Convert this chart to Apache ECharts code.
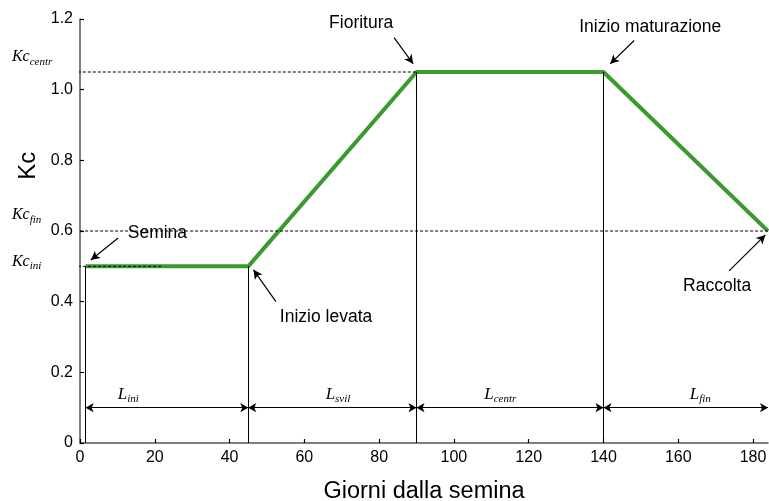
<!DOCTYPE html>
<html><head><meta charset="utf-8">
<script src="https://cdn.jsdelivr.net/npm/echarts@6/dist/echarts.min.js"></script>
<style>html,body{margin:0;padding:0;background:#fff}#c{width:769px;height:501px}</style>
</head><body><div id="c"></div>
<script>
// ---- data ----
const xTicks = [0, 20, 40, 60, 80, 100, 120, 140, 160, 180];
const yTicks = [0, 0.2, 0.4, 0.6, 0.8, 1.0, 1.2];
const kcDays = [1.5, 45, 90, 140, 184];
const kcValues = [0.5, 0.5, 1.05, 1.05, 0.6];
const refNames = ['centr', 'fin', 'ini'];
const refValues = [1.05, 0.6, 0.5];
const refStart = [-8.6, -8.0, -7.2];
const refEnd = [90, 184, 22];
const refLabelX = -18.2;
const refLabelY = [1.092, 0.645, 0.514];
const stageNames = ['ini', 'svil', 'centr', 'fin'];
const stageBounds = [1.5, 45, 90, 140, 184];
const stageLabelX = [12.9, 69, 112.4, 165.9];
const stageArrowY = 0.1;
const stageLabelY = 0.138;
const annTexts = ['Semina', 'Inizio levata', 'Fioritura', 'Inizio maturazione', 'Raccolta'];
const annX = [20.7, 65.8, 75.2, 152.5, 170.4];
const annY = [0.593, 0.356, 1.188, 1.177, 0.445];
const arrowFromX = [10.2, 52.4, 84.0, 148.2, 173.6];
const arrowFromY = [0.580, 0.400, 1.147, 1.139, 0.487];
const arrowToX = [2.9, 46.4, 89.1, 141.8, 183.3];
const arrowToY = [0.518, 0.490, 1.073, 1.073, 0.589];
const yNamePos = [-13.9, 0.785];

// ---- chart ----
const sans = 'Liberation Sans';
const serif = 'Liberation Serif';
const chart = echarts.init(document.getElementById('c'), null, {renderer: 'canvas'});

const series = [];
series.push({
  type: 'line', name: 'Kc', data: kcDays.map((d, i) => [d, kcValues[i]]),
  symbol: 'none', lineStyle: {color: '#3a9a2e', width: 4}, z: 3, animation: false
});
refValues.forEach((v, i) => {
  series.push({
    type: 'line', data: [[refStart[i], v], [refEnd[i], v]], clip: false,
    symbol: 'none', lineStyle: {color: '#000', width: 1, type: [3, 2]}, z: 5, animation: false, silent: true
  });
});
// vertical drop lines
series.push({
  type: 'line', data: [], animation: false, z: 2,
  markLine: {
    silent: true, animation: false, symbol: ['none', 'none'], label: {show: false},
    lineStyle: {color: '#000', width: 1, type: 'solid'},
    data: kcDays.slice(0, 4).map((d, i) => [{coord: [d, 0]}, {coord: [d, kcValues[i]]}])
  }
});
// stage dimension arrows
series.push({
  type: 'line', data: [], animation: false, z: 4,
  markLine: {
    silent: true, animation: false, symbol: ['arrow', 'arrow'], symbolSize: [7, 8], label: {show: false},
    lineStyle: {color: '#000', width: 1.2, type: 'solid'},
    data: stageNames.map((n, i) => [{coord: [stageBounds[i], stageArrowY]}, {coord: [stageBounds[i + 1], stageArrowY]}])
  }
});
// annotation arrows
series.push({
  type: 'line', data: [], animation: false, z: 4,
  markLine: {
    silent: true, animation: false, symbol: ['none', 'arrow'], symbolSize: [7, 9], label: {show: false},
    lineStyle: {color: '#000', width: 1.2, type: 'solid'},
    data: annTexts.map((t, i) => [{coord: [arrowFromX[i], arrowFromY[i]]}, {coord: [arrowToX[i], arrowToY[i]]}])
  }
});
// texts
const textData = [];
annTexts.forEach((t, i) => textData.push({
  value: [annX[i], annY[i]],
  label: {formatter: t, fontFamily: sans, fontSize: 17.5, color: '#000', align: 'center', verticalAlign: 'middle'}
}));
refNames.forEach((n, i) => textData.push({
  value: [refLabelX, refLabelY[i]],
  label: {formatter: '{m|Kc}{s|' + n + '}', align: 'left', verticalAlign: 'middle'}
}));
stageNames.forEach((n, i) => textData.push({
  value: [stageLabelX[i], stageLabelY],
  label: {formatter: '{l|L}{s|' + n + '}', align: 'center', verticalAlign: 'middle'}
}));
textData.push({
  value: yNamePos,
  label: {formatter: 'Kc', fontFamily: sans, fontSize: 24, color: '#000', rotate: 90, align: 'center', verticalAlign: 'middle'}
});
series.push({
  type: 'scatter', data: textData, clip: false, symbolSize: 1, itemStyle: {color: 'rgba(0,0,0,0)', opacity: 1},
  silent: true, animation: false, z: 10,
  label: {
    show: true, position: 'inside', color: '#000', opacity: 1, textBorderWidth: 0,
    rich: {
      m: {fontFamily: serif, fontStyle: 'italic', fontSize: 16, color: '#000'},
      l: {fontFamily: serif, fontStyle: 'italic', fontSize: 17, color: '#000'},
      s: {fontFamily: serif, fontStyle: 'italic', fontSize: 11, color: '#000', padding: [10, 0, 0, 0]}
    }
  }
});

chart.setOption({
  backgroundColor: '#fff',
  animation: false,
  grid: {left: 80, right: 1, top: 19, bottom: 58, containLabel: false, outerBoundsMode: 'none'},
  xAxis: {
    type: 'value', min: 0, max: 184,
    name: 'Giorni dalla semina', nameLocation: 'middle', nameGap: 37,
    nameTextStyle: {fontFamily: sans, fontSize: 23.5, color: '#000'},
    axisLine: {show: true, lineStyle: {color: '#555', width: 1.5}},
    axisTick: {show: true, inside: true, length: 4, customValues: xTicks, lineStyle: {color: '#000', width: 1.2}},
    axisLabel: {customValues: xTicks, fontFamily: sans, fontSize: 16, color: '#000', margin: 7},
    splitLine: {show: false}
  },
  yAxis: {
    type: 'value', min: 0, max: 1.2, interval: 0.2,
    axisLine: {show: true, lineStyle: {color: '#555', width: 1.5}},
    axisTick: {show: true, inside: true, length: 4, lineStyle: {color: '#000', width: 1.2}},
    axisLabel: {fontFamily: sans, fontSize: 16, color: '#000', margin: 7,
      formatter: v => v === 0 ? '0' : v.toFixed(1)},
    splitLine: {show: false}
  },
  series: series
});
</script></body></html>
